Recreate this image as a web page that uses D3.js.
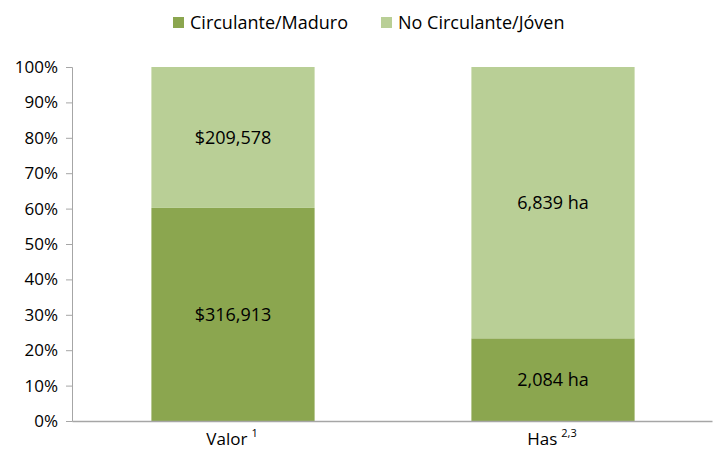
<!DOCTYPE html>
<html>
<head>
<meta charset="utf-8">
<script src="https://cdn.jsdelivr.net/npm/d3@7"></script>
<style>
  body { margin: 0; background: #fff; }
  svg text { font-family: "Open Sans", Arial, sans-serif; fill: #000; }
</style>
</head>
<body>
<div id="chart"></div>
<script>
const categories = ['Valor', 'Has'];
const superscripts = ['1', '2,3'];
const seriesNames = ['Circulante/Maduro', 'No Circulante/Jóven'];
const maduro = [316913, 2084];
const joven = [209578, 6839];
const maduroLabels = ['$316,913', '2,084 ha'];
const jovenLabels = ['$209,578', '6,839 ha'];
const yTicks = [0, 0.1, 0.2, 0.3, 0.4, 0.5, 0.6, 0.7, 0.8, 0.9, 1];
const colors = ['#8ba64f', '#b9cf96'];

const width = 713, height = 457;
const margin = {top: 67, right: 1, bottom: 36, left: 72};
const innerW = width - margin.left - margin.right;
const innerH = height - margin.top - margin.bottom;

const svg = d3.select('#chart').append('svg')
    .attr('width', width)
    .attr('height', height);

const g = svg.append('g')
    .attr('transform', `translate(${margin.left},${margin.top})`);

const x = d3.scaleBand()
    .domain(categories)
    .range([0, innerW])
    .paddingInner(0.49)
    .paddingOuter(0.245);

const y = d3.scaleLinear()
    .domain([0, 1])
    .range([innerH, 0]);

const data = categories.map((c, i) => {
    const total = maduro[i] + joven[i];
    return {cat: c, m: maduro[i] / total, j: joven[i] / total, ml: maduroLabels[i], jl: jovenLabels[i]};
});

// bars
g.selectAll('.bar-m')
    .data(data)
    .enter()
    .append('rect')
    .attr('x', d => x(d.cat) + 1)
    .attr('width', x.bandwidth())
    .attr('y', d => y(d.m))
    .attr('height', d => y(0) - y(d.m))
    .attr('fill', colors[0]);

g.selectAll('.bar-j')
    .data(data)
    .enter()
    .append('rect')
    .attr('x', d => x(d.cat) + 1)
    .attr('width', x.bandwidth())
    .attr('y', d => y(1))
    .attr('height', d => y(d.m) - y(1))
    .attr('fill', colors[1]);

// value labels
g.selectAll('.lbl-m')
    .data(data)
    .enter()
    .append('text')
    .attr('x', d => x(d.cat) + x.bandwidth() / 2 + 1)
    .attr('y', d => y(d.m / 2))
    .attr('dy', '0.35em')
    .attr('text-anchor', 'middle')
    .style('font-size', '18px')
    .text(d => d.ml);

g.selectAll('.lbl-j')
    .data(data)
    .enter()
    .append('text')
    .attr('x', d => x(d.cat) + x.bandwidth() / 2 + 1)
    .attr('y', d => y(d.m + d.j / 2))
    .attr('dy', '0.35em')
    .attr('text-anchor', 'middle')
    .style('font-size', '18px')
    .text(d => d.jl);

// y axis
const yAxis = g.append('g')
    .call(d3.axisLeft(y).tickValues(yTicks).tickFormat(d3.format('.0%')).tickSize(6).tickPadding(8));
yAxis.selectAll('path, line').attr('stroke', '#a6a6a6');
yAxis.selectAll('text').style('font-size', '17px').style('fill', '#000');

// x axis
const xAxis = g.append('g')
    .attr('transform', `translate(0,${innerH})`)
    .call(d3.axisBottom(x).tickSize(0).tickFormat(''));
xAxis.select('path').attr('stroke', '#a6a6a6').attr('stroke-width', 1.5);

const xl = g.selectAll('.xlab')
    .data(categories)
    .enter()
    .append('text')
    .attr('x', d => x(d) + x.bandwidth() / 2)
    .attr('y', innerH + 24)
    .attr('text-anchor', 'middle')
    .style('font-size', '17px');
xl.append('tspan').text(d => d);
xl.append('tspan')
    .attr('dx', 4)
    .attr('dy', -8)
    .style('font-size', '11px')
    .text((d, i) => superscripts[i]);

// legend
const legend = svg.append('g');
const legendX = [173, 381];
seriesNames.forEach((name, i) => {
    legend.append('rect')
        .attr('x', legendX[i])
        .attr('y', 17)
        .attr('width', 11)
        .attr('height', 11)
        .attr('fill', colors[i]);
    legend.append('text')
        .attr('x', legendX[i] + 17)
        .attr('y', 29)
        .style('font-size', '18px')
        .text(name);
});
</script>
</body>
</html>
